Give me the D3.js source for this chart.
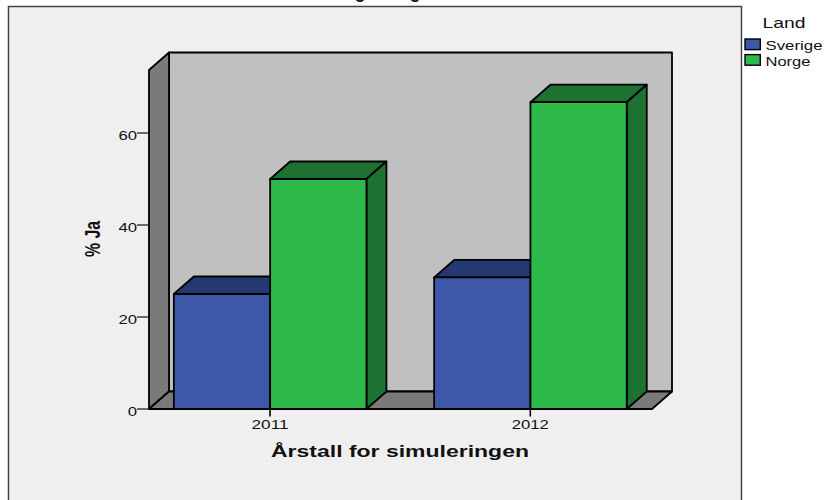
<!DOCTYPE html>
<html><head><meta charset="utf-8">
<script src="https://cdnjs.cloudflare.com/ajax/libs/d3/7.8.5/d3.min.js"></script>
<style>html,body{margin:0;padding:0;background:#fff}svg{display:block}text{font-family:"Liberation Sans",Arial,sans-serif;fill:#111}</style>
</head><body><div id="c"></div>
<script>
const years = ["2011","2012"];
const seriesNames = ["Sverige","Norge"];
const sverige = [25,28.6];
const norge = [50,66.7];
const yTicks = [0,20,40,60];
const frontColors = ["#3e58a9","#2eb94b"];
const darkColors = ["#253871","#1d7231"];
const W=825,H=500;
const svg=d3.select("#c").append("svg").attr("width",W).attr("height",H);
const dx=20,dy=-17.5;
const y=d3.scaleLinear().domain([0,73.7]).range([409,70]);
const plotL=149,plotR=652;
const x=d3.scaleBand().domain(years).range([139.85,660.45]);
const inner=d3.scaleBand().domain(seriesNames).range([34,226.6]);
const barW=inner.bandwidth();
const center=k=>x(k)+x.bandwidth()/2;
const line=pts=>d3.line()(pts)+"Z";
function poly(pts,fill){return svg.append("path").attr("d",line(pts)).attr("fill",fill)
 .attr("stroke","#000").attr("stroke-width",1.8).attr("stroke-linejoin","round");}
function label(xp,yp,s,size,len,anchor,bold){const t=svg.append("text").attr("x",xp).attr("y",yp)
 .attr("font-size",size).attr("text-anchor",anchor||"start").text(s);
 if(len)t.attr("textLength",len).attr("lengthAdjust","spacingAndGlyphs");
 if(bold)t.attr("font-weight","bold");return t;}
svg.append("rect").attr("x",8.5).attr("y",6.5).attr("width",733).attr("height",H).attr("fill","#efefef").attr("stroke","#444").attr("stroke-width",1.5);
// only the descenders of the title remain visible in the reference
[360,415].forEach(px=>label(px,-2,"g",18,null,"middle",true));
const y0=y(0),yT=y.range()[1];
poly([[plotL+dx,yT+dy],[plotR+dx,yT+dy],[plotR+dx,y0+dy],[plotL+dx,y0+dy]],"#c0c0c0");
poly([[plotL,yT],[plotL+dx,yT+dy],[plotL+dx,y0+dy],[plotL,y0]],"#7a7a7a");
poly([[plotL,y0],[plotL+dx,y0+dy],[plotR+dx,y0+dy],[plotR,y0]],"#7a7a7a");
const bar=(x0,v,i)=>{const t=y(v),x1=x0+barW;
 poly([[x0,t],[x0+dx,t+dy],[x1+dx,t+dy],[x1,t]],darkColors[i]);
 poly([[x1,t],[x1+dx,t+dy],[x1+dx,y0+dy],[x1,y0]],darkColors[i]);
 poly([[x0,t],[x1,t],[x1,y0],[x0,y0]],frontColors[i]);};
years.forEach((yr,k)=>{
 bar(x(yr)+inner("Sverige"),sverige[k],0);
 bar(x(yr)+inner("Norge"),norge[k],1);});
yTicks.forEach(t=>{svg.append("line").attr("x1",plotL-12).attr("x2",plotL).attr("y1",y(t)).attr("y2",y(t)).attr("stroke","#222").attr("stroke-width",1.3);
 label(plotL-12,y(t)+6.5,t,13.5,String(t).length*9.3,"end");});
years.forEach(yr=>{svg.append("line").attr("x1",center(yr)).attr("x2",center(yr)).attr("y1",y0).attr("y2",y0+7.5).attr("stroke","#000").attr("stroke-width",1.6);
 label(center(yr),429,yr,13.5,37,"middle");});
label(400,457,"Årstall for simuleringen",16.5,258,"middle",true);
svg.append("text").attr("transform","translate(100,239) rotate(-90)").attr("text-anchor","middle").attr("font-weight","bold").attr("font-size",22).attr("textLength",36).attr("lengthAdjust","spacingAndGlyphs").text("% Ja");
label(762.5,27.7,"Land",15,43);
seriesNames.forEach((n,i)=>{const ly=39+i*15.6;
 svg.append("rect").attr("x",745).attr("y",ly).attr("width",15.3).attr("height",10.6).attr("fill",frontColors[i]).attr("stroke","#000").attr("stroke-width",1.4);
 label(765.5,ly+11,n,13.5,n==="Sverige"?57:45);});
</script></body></html>
